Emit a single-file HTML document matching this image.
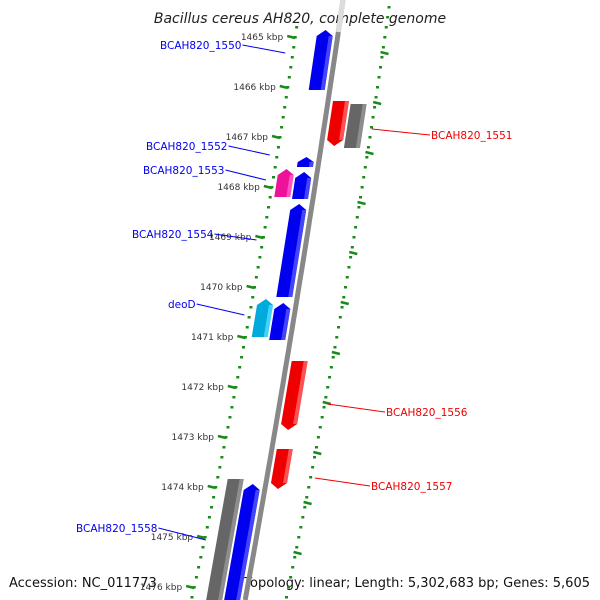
<!DOCTYPE html>
<html><head><meta charset="utf-8"><style>
html,body{margin:0;padding:0;background:#fff;width:600px;height:600px;overflow:hidden}
svg{display:block;font-family:"DejaVu Sans","Liberation Sans",sans-serif}
</style></head><body>
<svg id="map" width="600" height="600" viewBox="0 0 600 600">
<text x="300" y="23" text-anchor="middle" font-size="14" font-style="italic" fill="#222">Bacillus cereus AH820, complete genome</text>
<text x="9" y="587" font-size="13" fill="#111">Accession: NC_011773</text>
<text x="590" y="587" text-anchor="end" font-size="13" fill="#111">Topology: linear; Length: 5,302,683 bp; Genes: 5,605</text>
</svg>
<script>
const tickKbp = [1465,1466,1467,1468,1469,1470,1471,1472,1473,1474,1475,1476];
const geneStart = [1464.86,1466.28,1466.34,1467.40,1467.64,1467.70,1468.34,1470.24,1470.32,1471.48,1473.24,1473.84,1473.94];
const geneEnd   = [1466.06,1467.18,1467.22,1467.60,1468.20,1468.24,1470.20,1471.00,1471.06,1472.86,1474.04,1476.40,1476.40];
const geneLane  = [-1,1,2,-1,-2,-1,-1,-2,-1,1,1,-2,-1];
const geneDir   = [1,-1,0,1,1,1,1,1,1,-1,-1,0,1];
const geneColor = ['#0000ee','#ee0000','#666666','#0000ee','#ee1199','#0000ee','#0000ee','#00aadd','#0000ee','#ee0000','#ee0000','#666666','#0000ee'];
const labelText = ['BCAH820_1550','BCAH820_1551','BCAH820_1552','BCAH820_1553','BCAH820_1554','deoD','BCAH820_1556','BCAH820_1557','BCAH820_1558'];
const labelKbp  = [1465.32,1466.84,1467.36,1467.86,1469.06,1470.56,1472.34,1473.82,1475.06];
const labelSide = [-1,1,-1,-1,-1,-1,1,1,-1];
const labelPos  = [[160,49],[431,139],[146,150],[143,174],[132,238],[168,308],[386,416],[371,490],[76,532]];

const NS='http://www.w3.org/2000/svg';
const svg=document.getElementById('map');
const yOf=k=>37+(k-1465)*50;
const B=y=>343-0.145*y-0.00003*y*y;
const L=y=>300.5-0.14*y-0.00007*y*y;
const R=y=>390-0.138*y-0.0000593*y*y;
function mk(tag,attrs){const e=document.createElementNS(NS,tag);for(const k in attrs)e.setAttribute(k,attrs[k]);svg.appendChild(e);return e;}

let bb=[];
for(let y=0;y<=600;y+=10){bb.push(B(y).toFixed(1)+','+y);}
const back=mk('polyline',{points:bb.join(' '),fill:'none',stroke:'#888','stroke-width':5});


const backTop=mk('line',{x1:B(0),y1:0,x2:B(32),y2:32,stroke:'#ddd','stroke-width':5});



for(let y=27;y<600;y+=10){
  const d=mk('rect',{x:L(y)-1.5,y:y-1,width:3,height:2.5,fill:'#1a8a1a'});
  
  
}
for(let y=-3;y<600;y+=10){
  const d=mk('rect',{x:R(y)-1.5,y:y-1,width:3,height:2.5,fill:'#1a8a1a'});
  
  
}
tickKbp.forEach(k=>{
  const y=yOf(k);
  const t=mk('line',{x1:L(y)-8,y1:y-1,x2:L(y),y2:y+1,stroke:'#1a8a1a','stroke-width':2.5});
  
  
  const yr=y+16;
  const t2=mk('line',{x1:R(yr)-2,y1:yr-1,x2:R(yr)+6,y2:yr+1,stroke:'#1a8a1a','stroke-width':2.5});
  
  
  const tx=mk('text',{x:L(y)-12,y:y+3,'text-anchor':'end','font-size':9,fill:'#333'});
  tx.textContent=k+' kbp';
  
  
});

function shade(c){return c==='#666666'?'#999':c==='#0000ee'?'#5555ff':c==='#ee0000'?'#ff6666':c==='#ee1199'?'#ff66cc':'#55ddff';}
geneStart.forEach((s,i)=>{
  const y1=yOf(s),y2=yOf(geneEnd[i]);
  const lane=geneLane[i];
  let o1,o2;
  if(lane===-1){o1=-21;o2=-5;}else if(lane===-2){o1=-39;o2=-23;}else if(lane===1){o1=5;o2=21;}else{o1=23;o2=39;}
  const P=(y,o)=>(B(y)+o).toFixed(1)+','+y.toFixed(1);
  const mid=(o1+o2)/2, ah=Math.min(6,(y2-y1)/2);
  let pts=[];
  if(geneDir[i]===1){pts=[P(y2,o1),P(y1+ah,o1),P(y1,mid),P(y1+ah,o2),P(y2,o2)];}
  else if(geneDir[i]===-1){pts=[P(y1,o1),P(y2-ah,o1),P(y2,mid),P(y2-ah,o2),P(y1,o2)];}
  else{pts=[P(y1,o1),P(y2,o1),P(y2,o2),P(y1,o2)];}
  const g=mk('polygon',{points:pts.join(' '),fill:geneColor[i]});
  
  
  const a=y1+(geneDir[i]===1?ah:0), b=y2-(geneDir[i]===-1?ah:0);
  const hl=mk('polygon',{points:[P(a,o2-4),P(b,o2-4),P(b,o2),P(a,o2)].join(' '),fill:shade(geneColor[i]),opacity:0.8});
  
  
});

labelText.forEach((t,i)=>{
  const y=yOf(labelKbp[i]);
  const side=labelSide[i];
  const col=side<0?'#0000ee':'#ee0000';
  const [lx,ly]=labelPos[i];
  const gx=side<0?B(y)-50:B(y)+48;
  const tx=mk('text',{x:lx,y:ly,'font-size':10.5,fill:col});
  tx.textContent=t;
  
  
  const w=tx.getComputedTextLength();
  const ex=side<0?lx+w+1:lx-1;
  const ln=mk('line',{x1:ex,y1:ly-4,x2:gx,y2:y,stroke:col,'stroke-width':1});
  
  
});
</script>
</body></html>
